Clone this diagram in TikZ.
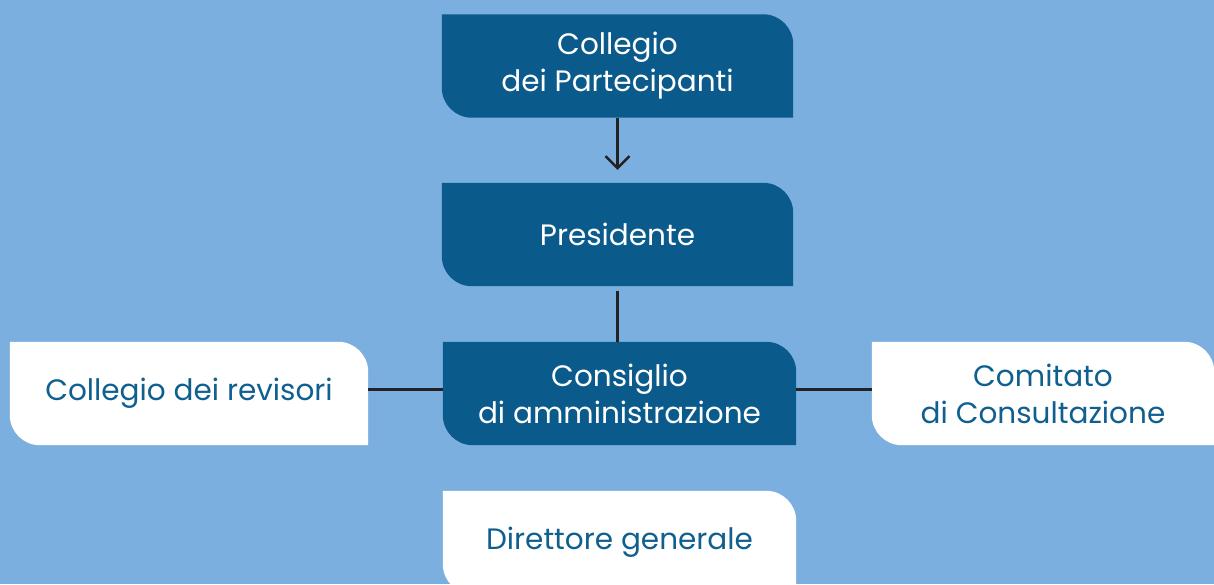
\documentclass[tikz,border=0pt]{standalone}
\usepackage{fontspec}
\setmainfont{Poppins}
\usetikzlibrary{arrows.meta,backgrounds}
\definecolor{bgblue}{HTML}{7BAFDF}
\definecolor{darkblue}{HTML}{0A5B8C}
\definecolor{textblue}{HTML}{0F5F8F}
\definecolor{linegray}{HTML}{222222}
\tikzset{
  organ/.style={minimum width=351pt, minimum height=103pt, align=center, inner sep=0pt,
    font=\fontsize{29.5}{37}\selectfont},
  darkorgan/.style={organ, text=white},
  lightorgan/.style={organ, text=textblue},
  link/.style={draw=linegray, line width=2.5pt},
}
% box with rounded top right and bottom left corners
\newcommand{\leafshape}[2]{%
  \fill[#2] (#1.north west) -- ([xshift=-30pt]#1.north east)
    arc[start angle=90,end angle=0,radius=30pt] -- (#1.south east)
    -- ([xshift=30pt]#1.south west) arc[start angle=270,end angle=180,radius=30pt] -- cycle;}
\begin{document}
\begin{tikzpicture}[x=1pt,y=1pt]
  \useasboundingbox (0,0) rectangle (1214,584);
  \node[darkorgan] (part) at (617.5,518) {Collegio\\dei Partecipanti};
  \node[darkorgan] (pres) at (617.5,349.5) {Presidente};
  \node[darkorgan, minimum width=353pt] (cda) at (619.5,190.5) {Consiglio\\di amministrazione};
  \node[lightorgan, minimum width=358pt] (rev) at (189,190.5) {Collegio dei revisori};
  \node[lightorgan, minimum width=342pt] (com) at (1043,190.5) {Comitato\\di Consultazione};
  \node[lightorgan, minimum width=353pt] (dir) at (619.5,41.5) {Direttore generale};
  \begin{scope}[on background layer]
    \fill[bgblue] (0,0) rectangle (1214,584);
    \leafshape{part}{darkblue}
    \leafshape{pres}{darkblue}
    \leafshape{cda}{darkblue}
    \leafshape{rev}{white}
    \leafshape{com}{white}
    \leafshape{dir}{white}
  \end{scope}
  \draw[link, -{Straight Barb[length=12pt,width=24pt]}, shorten >=13pt] (part.south) -- (pres.north);
  \draw[link, shorten <=5pt] (pres.south) -- (pres.south |- cda.north);
  \draw[link] ([yshift=4pt]rev.east) -- ([yshift=4pt]cda.west);
  \draw[link] ([yshift=4pt]cda.east) -- ([yshift=4pt]com.west);
\end{tikzpicture}
\end{document}
